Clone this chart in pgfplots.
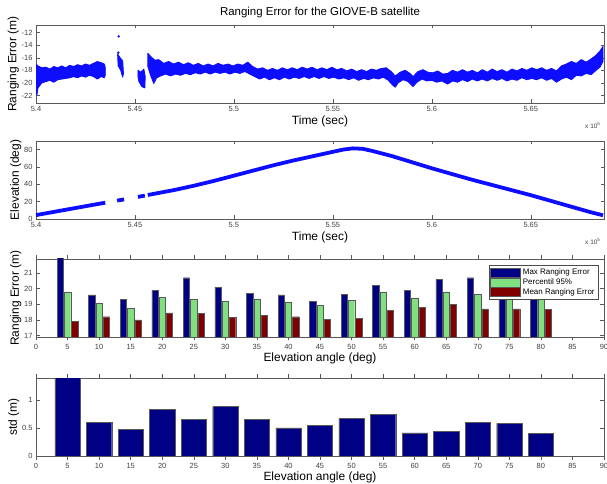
\documentclass[border=0pt]{standalone}
\usepackage{fontspec}
\setmainfont{Liberation Sans}
\usepackage{pgfplots}
\pgfplotsset{compat=1.18}
\definecolor{navy}{rgb}{0,0,0.52}
\definecolor{lgreen}{rgb}{0.5,0.88,0.5}
\definecolor{dred}{rgb}{0.5,0,0}
\definecolor{dotblue}{rgb}{0.05,0.05,1}
\pgfplotsset{
  mystyle/.style={
    scale only axis, width=568bp, height=78bp,
    /pgf/number format/assume math mode=true,
    tick label style={font=\fontsize{7.5}{8}\selectfont, text=black!75},
    label style={font=\fontsize{12}{14}\selectfont},
    tick align=inside, major tick length=3.5bp,
    axis line style={black!65}, every tick/.style={black!65},
    xlabel style={yshift=3bp},
    ylabel style={yshift=-4bp},
    clip=true,
  }
}
\begin{document}
\begin{tikzpicture}
\useasboundingbox (0,0) rectangle (607bp,484bp);
% ---------- Panel 1
\begin{axis}[mystyle, name=p1, at={(36bp,381bp)}, anchor=south west,
  xmin=5.4, xmax=5.687, ymin=-23.2, ymax=-10.8,
  xtick={5.4,5.45,5.5,5.55,5.6,5.65}, xticklabels={5.4,5.45,5.5,5.55,5.6,5.65},
  ytick={-22,-20,-18,-16,-14,-12},
  xlabel={Time (sec)}, ylabel={Ranging Error (m)},
  title={Ranging Error for the GIOVE-B satellite},
  title style={font=\fontsize{11.5}{13}\selectfont, yshift=-2bp}]
\addplot[fill=dotblue, draw=dotblue, line width=0.8pt, line join=round] coordinates {
(5.4000,-17.0)(5.4010,-17.3)(5.4030,-17.6)(5.4050,-17.5)(5.4070,-17.8)(5.4090,-17.4)
(5.4110,-17.6)(5.4130,-17.3)(5.4150,-17.6)(5.4170,-17.2)(5.4190,-17.4)(5.4210,-17.1)
(5.4230,-17.3)(5.4250,-17.0)(5.4270,-17.2)(5.4290,-16.9)(5.4310,-16.6)(5.4330,-16.8)
(5.4345,-17.0)(5.4350,-17.5)
(5.4350,-18.8)(5.4345,-19.2)(5.4330,-19.0)(5.4310,-19.4)(5.4290,-19.0)(5.4270,-18.8)
(5.4250,-19.1)(5.4230,-18.9)(5.4210,-19.2)(5.4190,-19.0)(5.4170,-19.2)(5.4150,-19.3)
(5.4130,-19.4)(5.4110,-19.5)(5.4090,-19.9)(5.4070,-19.6)(5.4050,-19.8)(5.4030,-20.0)
(5.4010,-20.8)(5.4005,-21.9)(5.4000,-21.9)
} -- cycle;
\addplot[fill=dotblue, draw=dotblue, line width=0.8pt, line join=round] coordinates {
(5.4412,-15.4)(5.4425,-16.0)(5.4438,-16.5)(5.4442,-18.5)(5.4438,-19.1)(5.4428,-18.0)(5.4415,-17.3)
} -- cycle;
\addplot[only marks, mark=*, mark size=1pt, dotblue] coordinates {(5.4418,-12.6)(5.4416,-15.2)};
\addplot[fill=dotblue, draw=dotblue, line width=0.8pt, line join=round] coordinates {
(5.4515,-18.0)(5.4530,-18.3)(5.4545,-17.8)(5.4552,-19.0)(5.4550,-20.8)(5.4535,-20.6)(5.4520,-19.8)(5.4515,-19.0)
} -- cycle;
\addplot[fill=dotblue, draw=dotblue, line width=0.8pt, line join=round] coordinates {
(5.4565,-15.3)(5.4580,-15.8)(5.4600,-16.4)(5.4620,-16.3)(5.4645,-16.9)(5.4670,-16.6)
(5.4695,-17.0)(5.4720,-16.7)(5.4745,-17.1)(5.4770,-16.8)(5.4795,-17.2)(5.4820,-16.9)
(5.4845,-17.3)(5.4870,-17.0)(5.4895,-17.3)(5.4920,-16.9)(5.4945,-17.2)(5.4970,-17.0)
(5.4995,-17.3)(5.5020,-17.0)(5.5045,-17.2)(5.5070,-16.7)(5.5095,-17.4)(5.5120,-17.8)
(5.5145,-17.6)(5.5170,-18.0)(5.5195,-17.7)(5.5220,-18.0)(5.5245,-17.6)(5.5270,-17.9)
(5.5295,-17.6)(5.5320,-17.9)(5.5345,-17.5)(5.5370,-17.8)(5.5395,-17.5)(5.5420,-17.9)
(5.5445,-17.6)(5.5470,-17.9)(5.5495,-17.5)(5.5520,-17.9)(5.5545,-17.7)(5.5570,-18.1)
(5.5595,-17.8)(5.5620,-18.2)(5.5645,-17.9)(5.5670,-18.2)(5.5695,-17.8)(5.5720,-18.0)
(5.5745,-17.7)(5.5770,-17.6)(5.5795,-18.2)(5.5815,-18.9)(5.5840,-18.3)(5.5865,-18.0)
(5.5890,-18.5)(5.5905,-19.0)(5.5930,-18.2)(5.5955,-17.9)(5.5980,-18.3)(5.6005,-18.4)
(5.6030,-18.1)(5.6055,-18.6)(5.6080,-18.5)(5.6105,-18.0)(5.6130,-18.3)(5.6155,-17.9)
(5.6180,-18.3)(5.6205,-18.0)(5.6230,-18.4)(5.6255,-17.9)(5.6280,-18.3)(5.6305,-17.8)
(5.6330,-18.2)(5.6355,-17.9)(5.6380,-18.3)(5.6405,-17.8)(5.6430,-18.1)(5.6455,-17.7)
(5.6480,-18.0)(5.6505,-17.6)(5.6530,-17.9)(5.6555,-17.6)(5.6580,-18.0)(5.6605,-17.7)
(5.6630,-18.1)(5.6655,-17.3)(5.6680,-17.0)(5.6705,-16.6)(5.6730,-16.9)(5.6755,-16.3)
(5.6780,-16.7)(5.6805,-16.2)(5.6830,-15.6)(5.6850,-14.9)(5.6865,-14.2)
(5.6865,-16.6)(5.6850,-17.5)(5.6830,-18.0)(5.6805,-18.7)(5.6780,-18.5)(5.6755,-18.9)
(5.6730,-18.8)(5.6705,-19.5)(5.6680,-19.1)(5.6655,-19.4)(5.6630,-19.9)(5.6605,-19.3)
(5.6580,-19.6)(5.6555,-19.2)(5.6530,-19.5)(5.6505,-19.3)(5.6480,-19.5)(5.6455,-19.2)
(5.6430,-19.6)(5.6405,-19.4)(5.6380,-19.7)(5.6355,-19.3)(5.6330,-19.6)(5.6305,-19.3)
(5.6280,-19.7)(5.6255,-19.4)(5.6230,-19.7)(5.6205,-19.4)(5.6180,-19.8)(5.6155,-19.5)
(5.6130,-19.9)(5.6105,-19.7)(5.6080,-20.2)(5.6050,-19.7)(5.6025,-19.9)(5.6000,-19.6)
(5.5975,-19.7)(5.5950,-19.4)(5.5925,-19.9)(5.5905,-20.6)(5.5880,-19.8)(5.5855,-19.5)
(5.5830,-20.0)(5.5815,-20.7)(5.5800,-20.3)(5.5780,-19.6)(5.5755,-19.1)(5.5730,-19.4)
(5.5705,-19.2)(5.5680,-19.5)(5.5655,-19.3)(5.5630,-19.6)(5.5605,-19.2)(5.5580,-19.5)
(5.5555,-19.2)(5.5530,-19.4)(5.5505,-19.1)(5.5480,-19.3)(5.5455,-19.0)(5.5430,-19.3)
(5.5405,-19.0)(5.5380,-19.3)(5.5355,-19.0)(5.5330,-19.3)(5.5305,-19.1)(5.5280,-19.4)
(5.5255,-19.1)(5.5230,-19.5)(5.5205,-19.2)(5.5180,-19.5)(5.5155,-19.1)(5.5130,-19.4)
(5.5105,-19.0)(5.5080,-18.6)(5.5055,-18.2)(5.5030,-18.5)(5.5005,-18.3)(5.4980,-18.6)
(5.4955,-18.3)(5.4930,-18.5)(5.4905,-18.3)(5.4880,-18.6)(5.4855,-18.3)(5.4830,-18.6)
(5.4805,-18.4)(5.4780,-18.7)(5.4755,-18.5)(5.4730,-18.8)(5.4705,-18.6)(5.4680,-18.9)
(5.4655,-18.6)(5.4630,-18.9)(5.4610,-19.2)(5.4595,-20.1)(5.4580,-18.9)(5.4565,-17.4)
} -- cycle;
\end{axis}
\node[font=\fontsize{6.5}{7}\selectfont, text=black!75, anchor=north east] at ([yshift=-16bp]p1.south east) {x 10\textsuperscript{5}};
% ---------- Panel 2
\begin{axis}[mystyle, name=p2, at={(36bp,265bp)}, anchor=south west,
  xmin=5.4, xmax=5.687, ymin=0, ymax=90,
  xtick={5.4,5.45,5.5,5.55,5.6,5.65}, xticklabels={5.4,5.45,5.5,5.55,5.6,5.65},
  ytick={0,20,40,60,80},
  xlabel={Time (sec)}, ylabel={Elevation (deg)}]
\addplot[dotblue, line width=3.8pt] coordinates {(5.400,4.5)(5.410,8.6)(5.420,12.7)(5.430,16.8)(5.435,18.8)};
\addplot[dotblue, line width=3.8pt] coordinates {(5.4410,21.2)(5.4445,22.6)};
\addplot[dotblue, line width=3.8pt] coordinates {(5.4515,25.5)(5.4550,27.0)};
\addplot[dotblue, line width=3.8pt, line join=round] coordinates {
(5.4565,27.7)(5.47,33.5)(5.48,38.5)(5.49,44)(5.50,50)(5.51,56)(5.52,62)(5.53,67.5)
(5.54,72.5)(5.55,77.5)(5.555,80)(5.56,81.5)(5.565,81)(5.57,78.5)(5.58,72.5)(5.59,65.5)
(5.60,58.5)(5.61,52)(5.62,45.5)(5.63,39.5)(5.64,33.5)(5.65,27.5)(5.66,21)(5.67,14.5)
(5.68,8)(5.6865,4.3)};
\end{axis}
\node[font=\fontsize{6.5}{7}\selectfont, text=black!75, anchor=north east] at ([yshift=-16bp]p2.south east) {x 10\textsuperscript{5}};
% ---------- Panel 3
\begin{axis}[mystyle, name=p3, at={(36bp,147bp)}, anchor=south west,
  xmin=0, xmax=90, ymin=16.9, ymax=21.9,
  xtick={0,5,...,90}, ytick={17,18,19,20,21},
  xlabel={Elevation angle (deg)}, ylabel={Ranging Error (m)},
  ybar, bar width=1.0,
  legend style={at={(0.99,0.92)}, anchor=north east, font=\fontsize{8}{9}\selectfont,
    draw=black!70, inner sep=1.5bp, row sep=-1.5bp, cells={anchor=west}},
  legend image code/.code={\draw[#1] (0bp,-4.5bp) rectangle (30bp,4.5bp);}]
\addplot[fill=navy, draw=black!65, bar shift=-1.15] coordinates {
(5,22.6)(10,19.6)(15,19.3)(20,19.9)(25,20.7)(30,20.1)(35,19.7)(40,19.6)(45,19.2)
(50,19.65)(55,20.2)(60,19.9)(65,20.6)(70,20.7)(75,20.4)(80,20.0)};
\addplot[fill=lgreen, draw=black!65, bar shift=0] coordinates {
(5,19.8)(10,19.05)(15,18.75)(20,19.45)(25,19.3)(30,19.2)(35,19.35)(40,19.15)(45,18.95)
(50,19.25)(55,19.8)(60,19.4)(65,19.8)(70,19.65)(75,19.5)(80,19.4)};
\addplot[fill=dred, draw=black!65, bar shift=1.15] coordinates {
(5,17.9)(10,18.2)(15,18.0)(20,18.45)(25,18.4)(30,18.15)(35,18.3)(40,18.2)(45,18.05)
(50,18.1)(55,18.6)(60,18.8)(65,19.0)(70,18.7)(75,18.7)(80,18.65)};
\legend{Max Ranging Error, Percentil 95\%, Mean Ranging Error}
\end{axis}
% ---------- Panel 4
\begin{axis}[mystyle, name=p4, at={(36bp,28bp)}, anchor=south west,
  xmin=0, xmax=90, ymin=0, ymax=1.39,
  xtick={0,5,...,90}, ytick={0,0.5,1}, yticklabels={0,0.5,1},
  xlabel={Elevation angle (deg)}, ylabel={std (m)},
  ybar, bar width=4.0]
\addplot[fill=navy, draw=black!65, bar shift=0] coordinates {
(5,1.45)(10,0.6)(15,0.48)(20,0.83)(25,0.65)(30,0.88)(35,0.65)(40,0.5)(45,0.54)
(50,0.67)(55,0.74)(60,0.41)(65,0.44)(70,0.6)(75,0.58)(80,0.4)};
\end{axis}
\end{tikzpicture}
\end{document}
